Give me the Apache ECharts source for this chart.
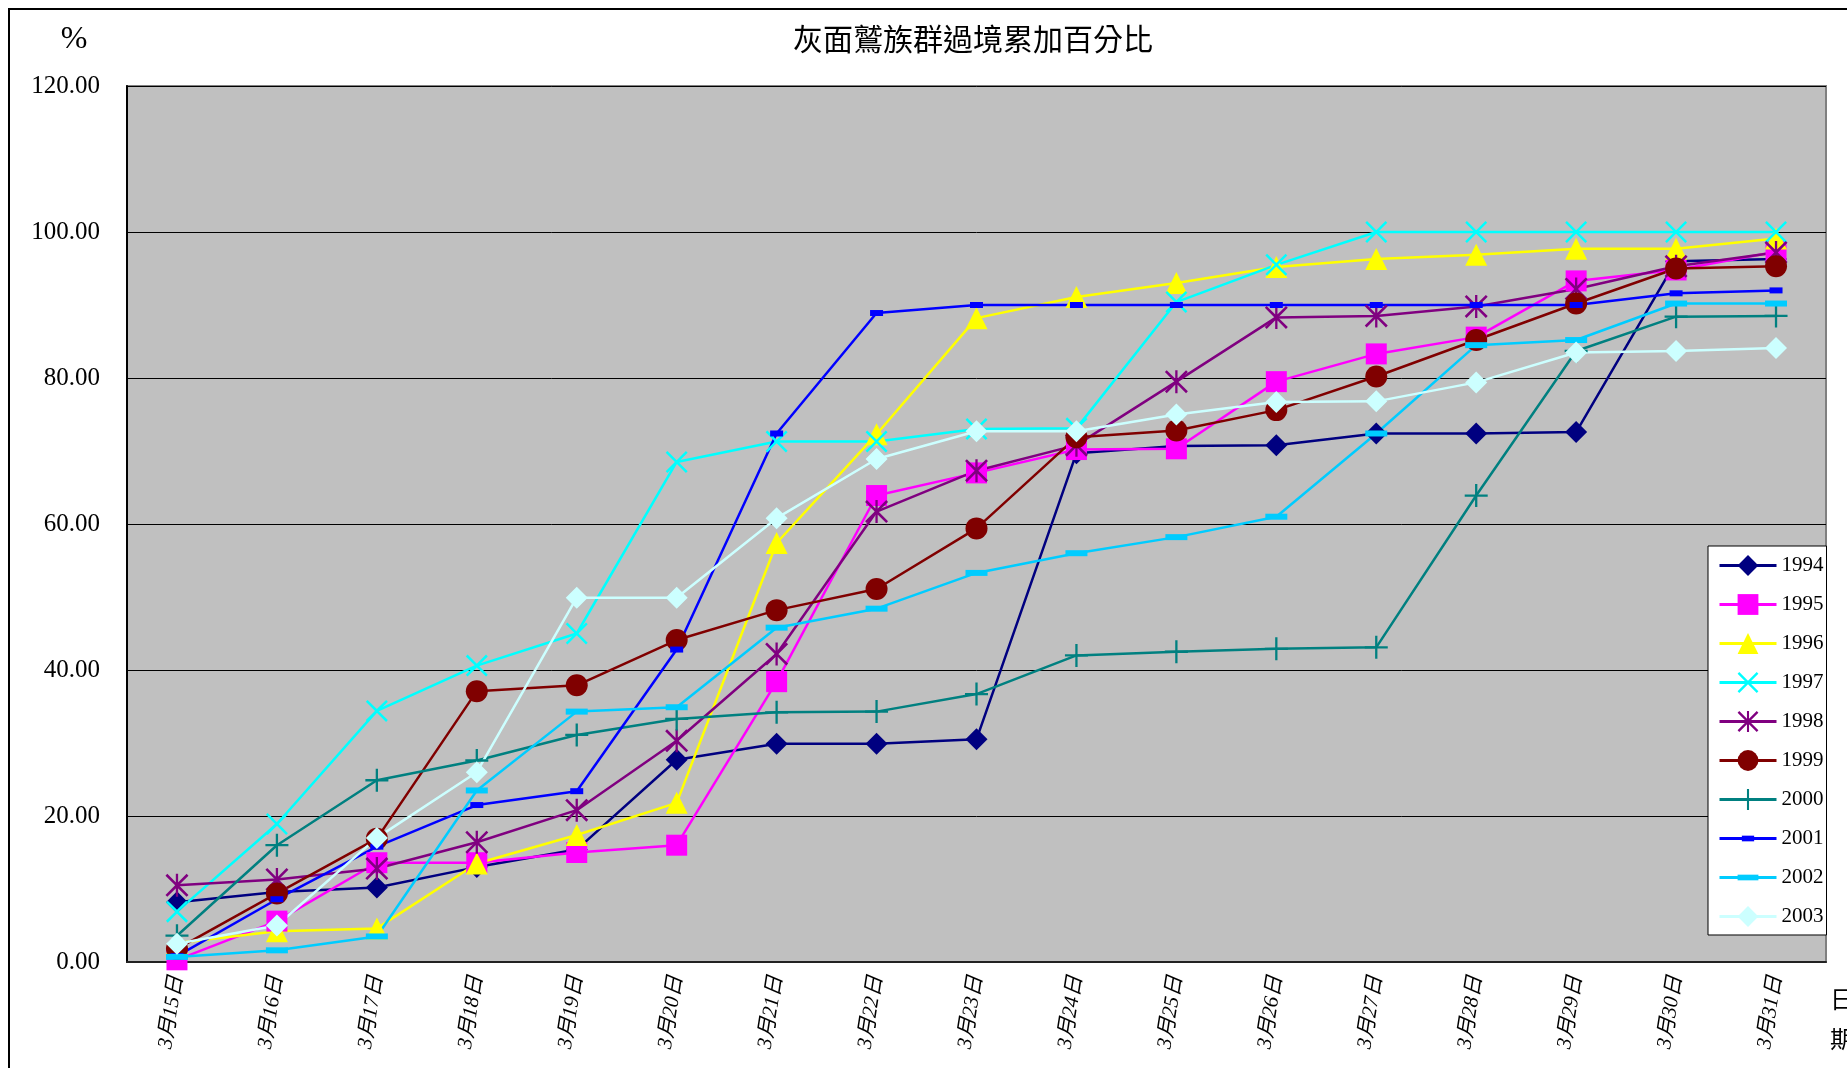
<!DOCTYPE html>
<html>
<head>
<meta charset="utf-8">
<title>灰面鷲族群過境累加百分比</title>
<script src="https://cdn.jsdelivr.net/npm/echarts/dist/echarts.min.js"></script>
<style>
  html, body { margin: 0; padding: 0; background: #fff; }
  #chart { width: 1847px; height: 1068px; }
</style>
</head>
<body>
<div id="chart"></div>
<script>
// 日期
var days = ["3月15日", "3月16日", "3月17日", "3月18日", "3月19日", "3月20日", "3月21日", "3月22日", "3月23日",
  "3月24日", "3月25日", "3月26日", "3月27日", "3月28日", "3月29日", "3月30日", "3月31日"];
var years = ["1994", "1995", "1996", "1997", "1998", "1999", "2000", "2001", "2002", "2003"];
var yTicks = [0, 20, 40, 60, 80, 100, 120];

// 累加百分比
var d1994 = [8.2, 9.6, 10.2, 13.0, 15.4, 27.7, 29.9, 29.9, 30.5, 69.7, 70.7, 70.8, 72.4, 72.4, 72.6, 96.0, 96.3];
var d1995 = [0.3, 5.6, 13.6, 13.6, 15.0, 16.0, 38.4, 63.9, 67.0, 70.2, 70.3, 79.5, 83.3, 85.6, 93.3, 94.8, 97.3];
var d1996 = [2.6, 4.2, 4.6, 13.5, 17.4, 21.8, 57.4, 72.3, 88.2, 91.1, 93.0, 95.2, 96.3, 96.9, 97.7, 97.7, 99.1];
var d1997 = [6.9, 18.9, 34.4, 40.6, 45.0, 68.5, 71.3, 71.3, 73.0, 73.1, 90.4, 95.5, 100, 100, 100, 100, 100];
var d1998 = [10.5, 11.3, 12.8, 16.4, 20.8, 30.3, 42.2, 61.7, 67.3, 70.8, 79.5, 88.3, 88.5, 89.8, 92.2, 95.3, 97.2];
var d1999 = [1.8, 9.4, 16.9, 37.1, 37.9, 44.1, 48.2, 51.1, 59.4, 71.9, 72.8, 75.6, 80.2, 85.2, 90.2, 95.0, 95.3];
var d2000 = [3.6, 16.0, 24.9, 27.6, 31.1, 33.3, 34.2, 34.3, 36.7, 42.0, 42.5, 42.9, 43.1, 63.9, 83.7, 88.4, 88.5];
var d2001 = [0.8, 8.6, 15.8, 21.5, 23.4, 42.8, 72.4, 88.9, 90.0, 90.0, 90.0, 90.0, 90.0, 90.0, 90.0, 91.6, 92.0];
var d2002 = [0.7, 1.6, 3.5, 23.5, 34.3, 34.9, 45.8, 48.4, 53.3, 56.0, 58.2, 61.0, 72.4, 84.5, 85.2, 90.2, 90.2];
var d2003 = [2.5, 5.0, 17.0, 26.0, 49.9, 49.9, 60.8, 68.9, 72.7, 72.7, 75.0, 76.7, 76.8, 79.4, 83.5, 83.7, 84.1];

var seriesData = [d1994, d1995, d1996, d1997, d1998, d1999, d2000, d2001, d2002, d2003];
var colors = ["#000080", "#ff00ff", "#ffff00", "#00ffff", "#800080", "#800000", "#008080", "#0000ff", "#00ccff", "#ccffff"];

// 符號 (方框 0..22, 長條形用空的 M 撐出正方外框)
var symX = "path://M0,0.08L0.08,0L0.5,0.42L0.92,0L1,0.08L0.58,0.5L1,0.92L0.92,1L0.5,0.58L0.08,1L0,0.92L0.42,0.5Z";
var symStar = symX + "M0.45,0L0.55,0L0.55,1L0.45,1Z";
var symPlus = "path://M0.45,0L0.55,0L0.55,0.45L1,0.45L1,0.55L0.55,0.55L0.55,1L0.45,1L0.45,0.55L0,0.55L0,0.45L0.45,0.45Z";
var symBarS = "path://M0,0M22,22M4.5,8L17.5,8L17.5,14L4.5,14Z";
var symBarL = "path://M0,0M22,22M0,8L22,8L22,14L0,14Z";
var symbols = ["diamond", "rect", "triangle", symX, symStar, "circle", symPlus, symBarS, symBarL, "diamond"];
var sizes = [22, 21, 22, 22, 23, 22, 23, 22, 22, 22];

var serif = '"Liberation Serif", "Noto Sans CJK TC", serif';

var series = years.map(function (y, i) {
  return {
    name: y,
    type: "line",
    data: seriesData[i],
    symbol: symbols[i],
    symbolSize: sizes[i],
    showAllSymbol: true,
    lineStyle: { color: colors[i], width: 2.5 },
    itemStyle: { color: colors[i] },
    emphasis: { disabled: true },
    animation: false,
  };
});

var chart = echarts.init(document.getElementById("chart"));
chart.setOption({
  animation: false,
  backgroundColor: "#ffffff",
  grid: {
    left: 127,
    right: 21,
    top: 86,
    bottom: 106,
    show: true,
    backgroundColor: "#c0c0c0",
    borderColor: "#808080",
    borderWidth: 2,
  },
  legend: {
    orient: "vertical",
    left: 1708,
    top: 546,
    padding: [9, 3, 8, 10],
    itemWidth: 57,
    itemHeight: 26,
    itemGap: 18,
    backgroundColor: "#ffffff",
    borderColor: "#000000",
    borderWidth: 1,
    borderRadius: 0,
    data: years,
    lineStyle: { width: 3 },
    textStyle: {
      fontFamily: serif,
      fontSize: 21,
      color: "#000",
    },
  },
  xAxis: {
    type: "category",
    data: days,
    boundaryGap: true,
    axisLine: { lineStyle: { color: "#222", width: 2 } },
    axisTick: { inside: true, length: 9, lineStyle: { color: "#000" } },
    axisLabel: {
      rotate: 81,
      margin: 14,
      fontFamily: serif,
      fontStyle: "italic",
      fontSize: 21,
      color: "#000",
    },
    splitLine: { show: false },
  },
  yAxis: {
    type: "value",
    min: yTicks[0],
    max: yTicks[yTicks.length - 1],
    interval: 20,
    axisLine: { show: true, lineStyle: { color: "#000", width: 2 } },
    axisTick: { show: false },
    axisLabel: {
      margin: 27,
      fontFamily: serif,
      fontSize: 25,
      color: "#000",
      formatter: function (v) {
        return v.toFixed(2);
      },
    },
    splitLine: { show: true, lineStyle: { color: "#000", width: 1 } },
  },
  graphic: [
    {
      type: "rect",
      shape: { x: 9, y: 9, width: 1900, height: 1100 },
      style: { fill: "none", stroke: "#000", lineWidth: 2 },
      silent: true,
    },
    {
      type: "text",
      x: 973,
      y: 39,
      style: {
        text: "灰面鷲族群過境累加百分比",
        font: '30px "Noto Sans CJK TC"',
        fill: "#000",
        textAlign: "center",
        textVerticalAlign: "middle",
      },
    },
    {
      type: "text",
      x: 74,
      y: 40,
      style: {
        text: "%",
        font: '32px "Liberation Serif"',
        fill: "#000",
        textAlign: "center",
        textVerticalAlign: "middle",
      },
    },
    {
      type: "text",
      x: 1842,
      y: 1019,
      style: {
        text: "日\n期",
        font: '24px "Noto Sans CJK TC"',
        lineHeight: 40,
        fill: "#000",
        textAlign: "center",
        textVerticalAlign: "middle",
      },
    },
  ],
  series: series,
});
</script>
</body>
</html>
